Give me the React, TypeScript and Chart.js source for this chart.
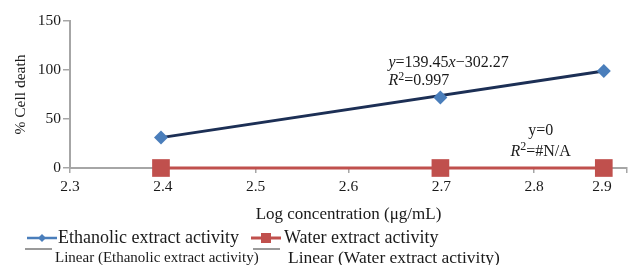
import React, { useEffect, useRef } from "react";
import { Chart, registerables } from "chart.js";
Chart.register(...registerables);

const logConcentration = [2.398, 2.699, 2.875];
const ethanolicActivity = [31, 72, 99];
const waterActivity = [0, 0, 0];
const ethanolicTrendX = [2.398, 2.875];
const ethanolicTrendY = [31, 99];
const xTickValues = [2.3, 2.4, 2.5, 2.6, 2.7, 2.8, 2.9];
const yTickValues = [0, 50, 100, 150];

const xTitle = "Log concentration (μg/mL)";
const yTitle = "% Cell death";
const legendLabels = [
  "Ethanolic extract activity",
  "Water extract activity",
  "Linear (Ethanolic extract activity)",
  "Linear (Water extract activity)",
];

const BLUE = "#4a7ebb";
const NAVY = "#1c2f55";
const RED = "#c0504d";
const AXIS = "#a6a6a6";
const TEXT = "#1a1a1a";
const SERIF = "'Liberation Serif', 'DejaVu Serif', serif";
const TICK_SIZE = 15.5;
const X_TICK_LEN = 5;
const X_TICK_PAD = 5;

type Seg = { t: string; i?: boolean; sup?: boolean };

function drawSegs(ctx: CanvasRenderingContext2D, segs: Seg[], x: number, y: number, size: number, align: "left" | "center", baseline: CanvasTextBaseline = "middle") {
  const fontFor = (s: Seg) => `${s.i ? "italic " : ""}${s.sup ? Math.round(size * 0.72) : size}px ${SERIF}`;
  let total = 0;
  for (const s of segs) {
    ctx.font = fontFor(s);
    total += ctx.measureText(s.t).width;
  }
  let cx = align === "center" ? x - total / 2 : x;
  ctx.textAlign = "left";
  ctx.textBaseline = baseline;
  ctx.fillStyle = TEXT;
  for (const s of segs) {
    ctx.font = fontFor(s);
    ctx.fillText(s.t, cx, s.sup ? y - size * 0.25 : y);
    cx += ctx.measureText(s.t).width;
  }
}

const overlayPlugin = {
  id: "overlay",
  afterDraw(chart: any) {
    const ctx: CanvasRenderingContext2D = chart.ctx;
    const xs = chart.scales.x;
    const ys = chart.scales.y;
    ctx.save();
    // last x tick label, pulled inside the canvas as in the source
    const last = xTickValues[xTickValues.length - 1];
    drawSegs(ctx, [{ t: last.toFixed(1) }], xs.getPixelForValue(last) - 25, xs.top + X_TICK_LEN + X_TICK_PAD + 1, TICK_SIZE, "center", "top");
    // equations
    drawSegs(ctx, [{ t: "y", i: true }, { t: "=139.45" }, { t: "x", i: true }, { t: "−302.27" }],
      xs.getPixelForValue(2.643), ys.getPixelForValue(107), 16, "left");
    drawSegs(ctx, [{ t: "R", i: true }, { t: "2", sup: true }, { t: "=0.997" }],
      xs.getPixelForValue(2.643), ys.getPixelForValue(89), 16, "left");
    drawSegs(ctx, [{ t: "y=0" }], xs.getPixelForValue(2.807), ys.getPixelForValue(38), 16, "center");
    drawSegs(ctx, [{ t: "R", i: true }, { t: "2", sup: true }, { t: "=#N/A" }],
      xs.getPixelForValue(2.807), ys.getPixelForValue(17), 16, "center");

    // legend
    const r1 = 238;
    const r2 = 258;
    ctx.strokeStyle = BLUE;
    ctx.lineWidth = 2.5;
    ctx.beginPath(); ctx.moveTo(27, r1); ctx.lineTo(57, r1); ctx.stroke();
    ctx.fillStyle = BLUE;
    ctx.beginPath(); ctx.moveTo(42, r1 - 4); ctx.lineTo(46, r1); ctx.lineTo(42, r1 + 4); ctx.lineTo(38, r1); ctx.closePath(); ctx.fill();
    drawSegs(ctx, [{ t: legendLabels[0] }], 58, r1, 18, "left");
    ctx.strokeStyle = RED;
    ctx.lineWidth = 3;
    ctx.beginPath(); ctx.moveTo(251, r1); ctx.lineTo(281, r1); ctx.stroke();
    ctx.fillStyle = RED;
    ctx.fillRect(261, r1 - 5, 10, 10);
    drawSegs(ctx, [{ t: legendLabels[1] }], 284, r1, 18, "left");
    ctx.strokeStyle = "#9a9a9a";
    ctx.lineWidth = 2;
    ctx.beginPath(); ctx.moveTo(25, r2 - 9); ctx.lineTo(52, r2 - 9); ctx.stroke();
    drawSegs(ctx, [{ t: legendLabels[2] }], 55, r2, 15, "left");
    ctx.beginPath(); ctx.moveTo(253, r2 - 9); ctx.lineTo(280, r2 - 9); ctx.stroke();
    drawSegs(ctx, [{ t: legendLabels[3] }], 288, r2, 17.5, "left");
    ctx.restore();
  },
};

export default function App() {
  const ref = useRef<HTMLCanvasElement | null>(null);
  useEffect(() => {
    document.body.style.margin = "0";
    const canvas = ref.current;
    if (!canvas) return;
    const chart = new Chart(canvas, {
      type: "scatter",
      data: {
        datasets: [
          {
            label: legendLabels[2],
            data: ethanolicTrendX.map((x, i) => ({ x, y: ethanolicTrendY[i] })),
            showLine: true,
            borderColor: NAVY,
            borderWidth: 3,
            pointRadius: 0,
            order: 2,
          },
          {
            label: legendLabels[0],
            data: logConcentration.map((x, i) => ({ x, y: ethanolicActivity[i] })),
            showLine: false,
            pointStyle: "rectRot",
            pointRadius: 7,
            backgroundColor: BLUE,
            borderColor: BLUE,
            borderWidth: 0,
            order: 1,
            clip: false,
          },
          {
            label: legendLabels[1],
            data: logConcentration.map((x, i) => ({ x, y: waterActivity[i] })),
            showLine: true,
            borderColor: RED,
            borderWidth: 3,
            pointStyle: "rect",
            pointRadius: 12.5,
            backgroundColor: RED,
            pointBorderWidth: 0,
            order: 0,
            clip: false,
          },
        ],
      },
      options: {
        animation: false,
        responsive: false,
        maintainAspectRatio: false,
        layout: { autoPadding: false, padding: { top: 21, right: 1, bottom: 40, left: 0 } },
        plugins: { legend: { display: false }, tooltip: { enabled: false } },
        scales: {
          x: {
            type: "linear",
            min: 2.3,
            max: 2.9,
            afterBuildTicks: (s: any) => { s.ticks = xTickValues.map((v) => ({ value: v })); },
            afterFit: (s: any) => { s.paddingRight = 0; s.paddingLeft = 0; },
            ticks: {
              callback: (v: any) => (Number(v) === xTickValues[xTickValues.length - 1] ? "" : Number(v).toFixed(1)),
              font: { family: SERIF, size: TICK_SIZE },
              color: TEXT,
              maxRotation: 0,
              padding: X_TICK_PAD,
            },
            grid: { drawOnChartArea: false, color: AXIS, tickLength: X_TICK_LEN, lineWidth: 1.5 },
            border: { color: AXIS, width: 2 },
            title: { display: true, text: xTitle, font: { family: SERIF, size: 17 }, color: TEXT, padding: { top: 3, bottom: 0 } },
          },
          y: {
            min: 0,
            max: 150,
            afterBuildTicks: (s: any) => { s.ticks = yTickValues.map((v) => ({ value: v })); },
            afterFit: (s: any) => { s.width = 70; },
            ticks: { font: { family: SERIF, size: TICK_SIZE }, color: TEXT, padding: 2 },
            grid: { drawOnChartArea: false, color: AXIS, tickLength: 7, lineWidth: 1.5 },
            border: { color: AXIS, width: 2 },
            title: { display: true, text: yTitle, font: { family: SERIF, size: 15.5 }, color: TEXT, padding: { top: 12, bottom: 8 } },
          },
        },
      },
      plugins: [overlayPlugin],
    } as any);
    return () => chart.destroy();
  }, []);
  return (
    <div style={{ width: 628, height: 265, background: "#fff" }}>
      <canvas ref={ref} width={628} height={265} style={{ display: "block" }} />
    </div>
  );
}
